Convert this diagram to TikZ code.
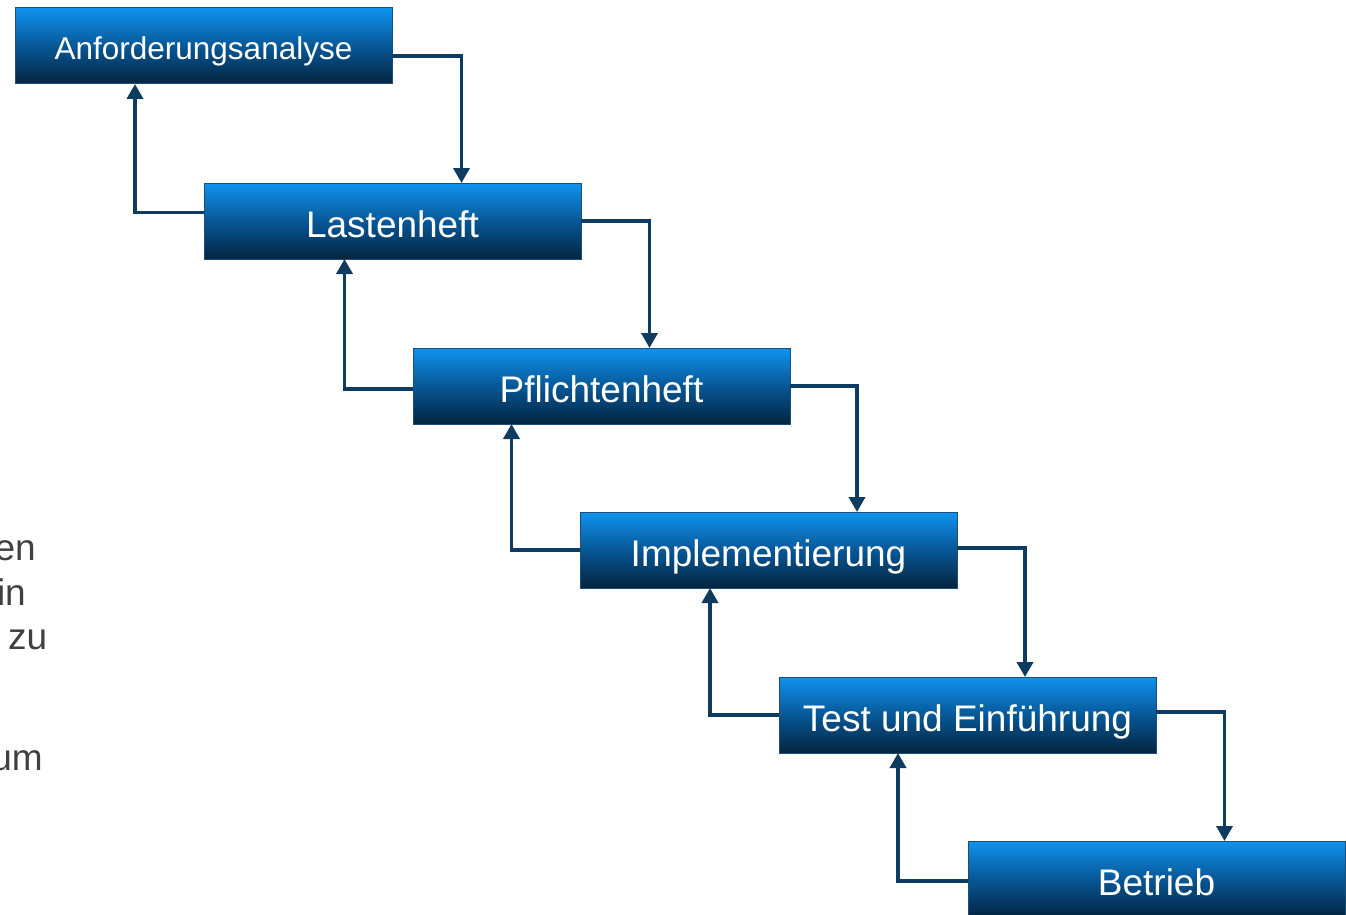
\documentclass[tikz,border=0pt]{standalone}
\usepackage{fontspec}
\setmainfont{Liberation Sans}
\usetikzlibrary{arrows.meta}
\definecolor{boxtop}{HTML}{0F93EE}
\definecolor{boxmid}{HTML}{075796}
\definecolor{boxbot}{HTML}{03243F}
\definecolor{boxline}{HTML}{1D4E78}
\definecolor{conn}{HTML}{0E3B60}
\definecolor{sidetext}{HTML}{404040}
\tikzset{
  phase/.style={draw=boxline, line width=1pt, top color=boxtop, bottom color=boxbot, middle color=boxmid,
    minimum width=377pt, minimum height=76pt, inner sep=0pt, outer sep=0pt, anchor=north west,
    text=white, font=\fontsize{37}{44}\selectfont, text height=32pt, text depth=0pt},
  flow/.style={draw=conn, line width=3.6pt, -{Triangle[width=16pt,length=15pt]}},
  side/.style={text=sidetext, font=\fontsize{37}{44}\selectfont, inner sep=0pt},
}
\begin{document}
\begin{tikzpicture}[x=1pt,y=-1pt]
\useasboundingbox (0,0) rectangle (1346,915);
\node[phase, font=\fontsize{31.5}{38}\selectfont, text height=27pt] (A) at (15,8) {Anforderungsanalyse};
\node[phase] (L) at (204,183) {Lastenheft};
\node[phase] (P) at (413,348) {Pflichtenheft};
\node[phase] (I) at (580,512) {Implementierung};
\node[phase] (T) at (779,677) {Test und Einführung};
\node[phase] (B) at (968,841) {Betrieb};
% forward
\draw[flow] ([yshift=-10pt]A.east) -| ([xshift=69pt]L.north);
\draw[flow] (L.east) -| ([xshift=48pt]P.north);
\draw[flow] (P.east) -| ([xshift=88.5pt]I.north);
\draw[flow] ([yshift=2pt]I.east) -| ([xshift=57.5pt]T.north);
\draw[flow] ([yshift=3pt]T.east) -| ([xshift=68pt]B.north);
% backward
\draw[flow] ([yshift=8.5pt]L.west) -| ([xshift=-68.5pt]A.south);
\draw[flow] ([yshift=-3pt]P.west) -| ([xshift=-48pt]L.south);
\draw[flow] (I.west) -| ([xshift=-90pt]P.south);
\draw[flow] (T.west) -| ([xshift=-58.5pt]I.south);
\draw[flow] ([yshift=-2pt]B.west) -| ([xshift=-69.5pt]T.south);
% clipped side text
\node[side, anchor=base east] (s1) at (36,560) {en};
\node[side, anchor=base east] (s2) at (26,605) {in};
\node[side, anchor=base west] (s3) at (8,649) {zu};
\node[side, anchor=base east] (s4) at (43,770) {um};
\end{tikzpicture}
\end{document}
